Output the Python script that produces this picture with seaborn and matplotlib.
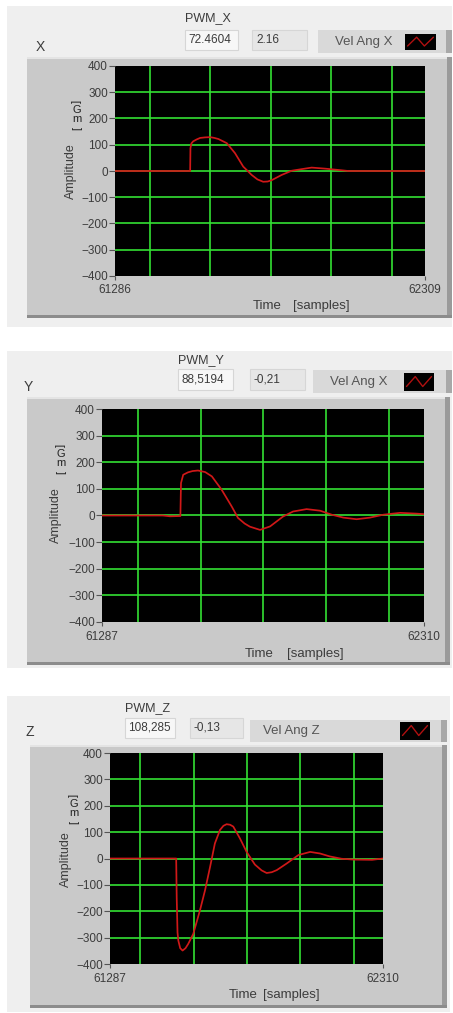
import numpy as np
import pandas as pd
import matplotlib
matplotlib.use("Agg")
import matplotlib.pyplot as plt
from matplotlib.patches import Rectangle
import seaborn as sns

# 数据
x_t = [61286, 61534, 61535, 61538, 61544, 61555, 61567, 61583, 61600, 61614, 61627,
       61655, 61682, 61709, 61737, 61756, 61775, 61790, 61803, 61836, 61869, 61896,
       61935, 61979, 62023, 62056, 62309]
x_amp = [0, 0, 87, 105, 113, 120, 126, 128, 129, 126, 122,
         106, 68, 17, -15, -32, -41, -40, -35, -15, 1, 6,
         13, 9, 4, 0, 0]

y_t = [61287, 61480, 61503, 61536, 61538, 61545, 61560, 61575, 61592, 61615, 61636, 61667,
       61699, 61719, 61740, 61757, 61789, 61821, 61862, 61894, 61937, 61980, 62017,
       62054, 62096, 62138, 62181, 62234, 62287, 62310]
y_amp = [0, 0, -3, -2, 122, 153, 162, 167, 169, 163, 147, 97,
         34, -9, -30, -42, -54, -41, -4, 15, 24, 18, 3,
         -8, -14, -8, 3, 10, 7, 5]

z_t = [61287, 61535, 61537, 61540, 61543, 61550, 61559, 61570, 61580, 61599, 61624,
       61643, 61662, 61680, 61699, 61712, 61724, 61737, 61749, 61774, 61799, 61830,
       61855, 61874, 61893, 61912, 61949, 61993, 62037, 62074, 62110, 62155, 62199,
       62269, 62310]
z_amp = [0, 0, -150, -280, -311, -340, -349, -340, -324, -286, -197,
         -121, -32, 57, 108, 124, 130, 128, 121, 76, 25, -23,
         -45, -55, -52, -44, -19, 13, 25, 19, 8, -1, -4,
         -5, 0]

names = ["X", "Y", "Z"]
pwm_names = ["PWM_X", "PWM_Y", "PWM_Z"]
pwm_vals = ["72.4604", "88,5194", "108,285"]
offsets = ["2.16", "-0,21", "-0,13"]
legend_names = ["Vel Ang X", "Vel Ang X", "Vel Ang Z"]
series = [(x_t, x_amp), (y_t, y_amp), (z_t, z_amp)]
y_ticks = [-400, -300, -200, -100, 0, 100, 200, 300, 400]
x_grid = [61400, 61600, 61800, 62000, 62200]

W, H = 453, 1013
sns.set_theme(style="white")
plt.rcParams["font.family"] = ["Liberation Sans", "DejaVu Sans"]

fig = plt.figure(figsize=(W / 100, H / 100), dpi=100)
fig.patch.set_facecolor("white")

TXT = "#3c3c3c"


def rect(x0, y0, x1, y1, **kw):
    kw.setdefault("zorder", -10)
    r = Rectangle((x0 / W, 1 - y1 / H), (x1 - x0) / W, (y1 - y0) / H,
                  transform=fig.transFigure, **kw)
    fig.add_artist(r)


def text(x, y, s, **kw):
    kw.setdefault("color", TXT)
    kw.setdefault("va", "center")
    fig.text(x / W, 1 - y / H, s, **kw)


# 布局 (像素)
layout = [
    dict(outer=(7, 6, 452, 327), frame=(27, 57, 452, 318), plot=(115, 66, 425, 276),
         title=(40, 47), pwm=(185, 18), box1=(185, 30, 238, 50), box2=(252, 30, 307, 50),
         btn=(318, 30, 452, 53), btn_txt=(335, 42), swatch=(405, 34, 436, 50),
         amp=(71, 171), mg=(77, 101), xlab_y=290, time=((253, 306), (293, 306))),
    dict(outer=(7, 351, 452, 668), frame=(27, 397, 450, 665), plot=(102, 409, 424, 622),
         title=(28, 387), pwm=(178, 360), box1=(178, 369, 233, 390), box2=(250, 369, 305, 390),
         btn=(313, 370, 452, 393), btn_txt=(330, 382), swatch=(404, 373, 434, 391),
         amp=(56, 515), mg=(61, 445), xlab_y=637, time=((245, 654), (287, 654))),
    dict(outer=(7, 696, 450, 1012), frame=(30, 745, 447, 1008), plot=(110, 753, 383, 964),
         title=(30, 732), pwm=(125, 708), box1=(125, 718, 175, 738), box2=(190, 718, 243, 738),
         btn=(250, 720, 447, 742), btn_txt=(263, 731), swatch=(400, 722, 430, 740),
         amp=(66, 859), mg=(74, 795), xlab_y=979, time=((229, 995), (263, 995))),
]

for i, L in enumerate(layout):
    # 面板背景
    rect(*L["outer"], facecolor="#efefef", edgecolor="none", zorder=-20)
    fx0, fy0, fx1, fy1 = L["frame"]
    rect(fx0, fy0, fx1, fy1, facecolor="#c9c9c9", edgecolor="none", zorder=-15)
    rect(fx0, fy0, fx1, fy0 + 2, facecolor="#e4e4e4", edgecolor="none")
    rect(fx1 - 5, fy0, fx1, fy1, facecolor="#9a9a9a", edgecolor="none")
    rect(fx0, fy1 - 3, fx1, fy1, facecolor="#8c8c8c", edgecolor="none")

    # 标题与数值框
    text(*L["title"], names[i], fontsize=10, ha="center")
    text(*L["pwm"], pwm_names[i], fontsize=9, ha="left")
    b = L["box1"]
    rect(*b, facecolor="#f7f7f7", edgecolor="#d6d6d6", linewidth=0.8)
    text(b[0] + 3, (b[1] + b[3]) / 2, pwm_vals[i], fontsize=8.5, ha="left")
    b = L["box2"]
    rect(*b, facecolor="#e6e6e6", edgecolor="#d6d6d6", linewidth=0.8)
    text(b[0] + 4, (b[1] + b[3]) / 2, offsets[i], fontsize=8.5, ha="left")
    b = L["btn"]
    rect(*b, facecolor="#d9d9d9", edgecolor="none")
    rect(b[2] - 6, b[1], b[2], b[3], facecolor="#a8a8a8", edgecolor="none")
    text(*L["btn_txt"], legend_names[i], fontsize=9.5, ha="left", color="#555555")
    s = L["swatch"]
    sw = fig.add_axes([s[0] / W, 1 - s[3] / H, (s[2] - s[0]) / W, (s[3] - s[1]) / H])
    sw.set_facecolor("black")
    sw.plot([0, 0.35, 0.65, 1], [0.25, 0.8, 0.25, 0.8], color="#b01010", lw=1)
    sw.set_xlim(-0.1, 1.1)
    sw.set_ylim(0, 1)
    sw.set_xticks([])
    sw.set_yticks([])
    for sp in sw.spines.values():
        sp.set_visible(False)

    # 绘图区
    px0, py0, px1, py1 = L["plot"]
    ax = fig.add_axes([px0 / W, 1 - py1 / H, (px1 - px0) / W, (py1 - py0) / H])
    ax.set_facecolor("black")
    t, a = series[i]
    df = pd.DataFrame({"t": t, "amp": a})
    ax.set_axisbelow(True)
    sns.lineplot(data=df, x="t", y="amp", ax=ax, color="#d01818", linewidth=1.25,
                 estimator=None, sort=False)
    ax.set_xlim(t[0], t[-1])
    ax.set_ylim(-400, 400)
    ax.yaxis.remove_overlapping_locs = False
    ax.set_yticks(y_ticks)
    ax.set_yticks(y_ticks[1:-1], minor=True)
    ax.set_xticks([t[0], t[-1]])
    ax.set_xticklabels([])
    ax.set_xticks(x_grid, minor=True)
    ax.grid(False)
    ax.grid(which="minor", axis="both", color="#33e033", linewidth=1.2)
    ax.tick_params(axis="y", which="major", length=4, width=0.8, color="#555555",
                   labelsize=8.5, labelcolor=TXT, pad=1, left=True)
    ax.tick_params(axis="x", which="major", length=3, width=0.8, color="#555555",
                   bottom=True, pad=1)
    ax.tick_params(which="minor", length=0)
    ax.set_xlabel("")
    ax.set_ylabel("")
    for sp in ax.spines.values():
        sp.set_visible(False)

    # 轴标签
    text(px0, L["xlab_y"], str(t[0]), fontsize=8.5, ha="center")
    text(px1, L["xlab_y"], str(t[-1]), fontsize=8.5, ha="center")
    text(*L["time"][0], "Time", fontsize=9.5, ha="left")
    text(*L["time"][1], "[samples]", fontsize=9.5, ha="left")
    text(*L["amp"], "Amplitude", fontsize=9, ha="center", rotation=90)
    mx, my = L["mg"]
    for k, ch in enumerate(["]", "G", "m", "["]):
        rot = 90 if ch in "[]" else 0
        text(mx, my + k * 9, ch, fontsize=8, ha="center", rotation=rot, color="#222222")

fig.savefig("out.png", dpi=100, facecolor="white")
